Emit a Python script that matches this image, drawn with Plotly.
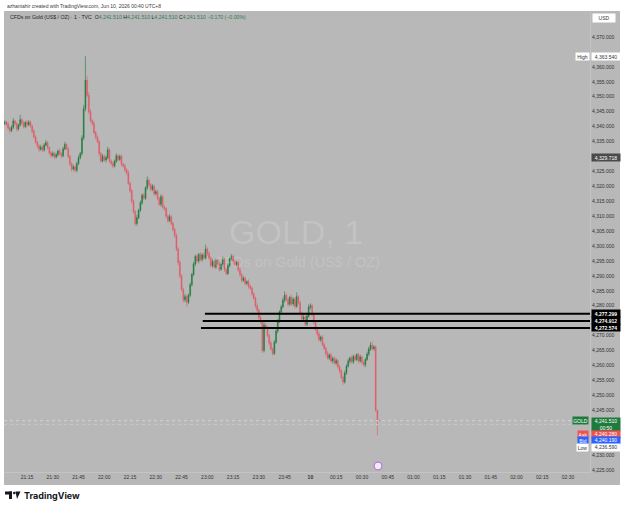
import plotly.graph_objects as go
import pandas as pd

# ---------------- data (1-minute candles) ----------------
start_time = "2026-06-09 21:02"
first_open = 4341.0
close = [
    4341.5, 4340.8, 4339.5, 4338.6, 4339.8, 4341.9, 4341.0, 4339.2, 4340.5, 4342.3,
    4341.2, 4340.0, 4341.4, 4340.6, 4341.5, 4340.2, 4338.4, 4336.5, 4334.8, 4333.6,
    4332.4, 4333.1, 4332.2, 4333.8, 4334.6, 4333.0, 4331.2, 4330.3, 4331.0, 4329.8,
    4330.6, 4331.8, 4331.0, 4330.2, 4332.5, 4334.0, 4332.6, 4330.0, 4327.5, 4325.8,
    4326.5, 4325.4, 4327.6, 4329.6, 4331.0, 4336.2, 4346.0, 4355.5, 4350.5, 4345.0,
    4342.0, 4341.0, 4338.0, 4336.5, 4335.0, 4331.0, 4328.5, 4330.0, 4328.8, 4329.6,
    4332.2, 4328.5, 4327.6, 4326.8, 4328.4, 4330.2, 4329.0, 4330.0, 4327.4, 4326.9,
    4325.5, 4324.5, 4321.0, 4318.5, 4315.0, 4311.5, 4307.5, 4309.5, 4312.0, 4314.5,
    4317.0, 4316.0, 4319.5, 4322.0, 4320.5, 4319.0, 4320.0, 4317.5, 4318.2, 4316.0,
    4314.0, 4316.5, 4313.0, 4312.5, 4310.0, 4308.5, 4309.8, 4307.5, 4305.5, 4303.5,
    4299.0, 4294.5, 4290.0, 4285.5, 4282.0, 4283.0, 4281.2, 4283.5, 4287.0, 4290.5,
    4294.0, 4296.5, 4295.0, 4297.2, 4295.5, 4297.0, 4296.0, 4299.0, 4297.5, 4296.0,
    4293.5, 4294.8, 4293.0, 4295.2, 4294.0, 4292.2, 4293.8, 4295.5, 4292.0, 4290.8,
    4293.5, 4295.8, 4296.5, 4295.0, 4293.8, 4294.5, 4292.0, 4290.5, 4288.5, 4289.2,
    4287.5, 4288.0, 4286.5, 4285.8, 4284.0, 4282.5, 4280.0, 4278.5, 4276.0, 4274.5,
    4265.0, 4273.5, 4272.8, 4270.0, 4267.5, 4265.5, 4264.0, 4267.8, 4271.5, 4274.8,
    4278.0, 4279.6, 4281.8, 4283.5, 4282.0, 4280.5, 4282.8, 4280.6, 4282.2, 4279.8,
    4283.0, 4281.0, 4277.5, 4275.5, 4276.2, 4273.8, 4276.5, 4279.5, 4280.0, 4277.0,
    4274.5, 4272.0, 4270.5, 4268.6, 4269.5, 4267.0, 4265.8, 4264.0, 4262.5, 4263.5,
    4261.5, 4262.4, 4260.8, 4261.6, 4259.5, 4258.2, 4256.0, 4254.5, 4257.5, 4259.8,
    4261.5, 4262.5, 4261.2, 4263.0, 4262.0, 4263.6, 4261.5, 4262.8, 4261.0, 4260.2,
    4262.0, 4263.8, 4265.5, 4266.8, 4265.6, 4266.2, 4245.0, 4241.68, 4241.51,
]
upper_wick = [
    0.6, 0.4, 0.8, 0.5, 0.7, 0.9, 0.4, 0.6, 0.5, 1.6,
    0.5, 0.7, 0.4, 0.8, 0.6, 0.5, 0.4, 0.7, 0.6, 0.5,
    0.4, 0.8, 0.5, 0.6, 0.9, 0.5, 0.4, 0.6, 0.7, 0.5,
    0.6, 0.5, 0.8, 0.4, 0.7, 0.9, 0.5, 0.6, 0.4, 0.5,
    0.7, 0.5, 0.6, 0.8, 0.5, 0.9, 1.2, 8.04, 1.5, 1.0,
    0.8, 0.6, 0.9, 0.5, 0.7, 0.6, 0.5, 0.8, 0.6, 0.7,
    1.0, 0.6, 0.5, 0.7, 0.6, 0.8, 0.5, 0.6, 0.7, 0.4,
    0.6, 0.5, 0.8, 0.6, 0.7, 0.5, 0.6, 0.9, 0.5, 0.7,
    0.6, 0.8, 0.5, 1.3, 0.7, 0.6, 0.8, 0.5, 0.7, 0.6,
    0.5, 0.8, 0.6, 0.7, 0.5, 0.6, 0.8, 0.5, 0.7, 0.6,
    0.8, 0.6, 0.7, 0.5, 0.6, 0.9, 0.7, 0.6, 0.8, 0.5,
    0.7, 0.6, 0.8, 0.5, 0.7, 0.6, 0.9, 1.5, 0.6, 0.7,
    0.5, 0.8, 0.6, 0.7, 0.5, 0.8, 0.6, 0.9, 0.5, 0.6,
    0.7, 0.5, 0.8, 0.6, 0.7, 0.5, 0.6, 0.8, 0.5, 0.7,
    0.6, 0.5, 0.8, 0.6, 0.7, 0.5, 0.6, 0.8, 0.5, 0.7,
    0.6, 0.9, 0.7, 0.5, 0.6, 0.8, 0.5, 0.7, 0.6, 0.8,
    0.5, 0.7, 0.9, 1.3, 0.6, 0.8, 0.5, 0.9, 0.6, 0.7,
    1.5, 0.6, 0.7, 0.5, 0.8, 0.6, 0.7, 1.0, 0.8, 0.6,
    0.5, 0.7, 0.6, 0.8, 0.5, 0.7, 0.6, 0.5, 0.8, 0.6,
    0.7, 0.5, 0.6, 0.8, 0.5, 0.7, 0.6, 0.5, 0.8, 0.6,
    0.7, 0.5, 0.8, 0.6, 0.7, 0.5, 0.6, 0.8, 0.5, 0.7,
    0.6, 0.8, 0.7, 1.0, 1.2, 0.6, 0.5, 0.3, 0.0,
]
lower_wick = [
    0.5, 0.7, 0.6, 0.9, 0.4, 0.6, 0.5, 0.8, 0.6, 0.5,
    0.7, 0.6, 0.5, 0.8, 0.4, 0.6, 0.7, 0.5, 0.6, 0.8,
    0.9, 0.5, 0.7, 0.6, 0.4, 0.7, 0.6, 0.8, 0.5, 0.7,
    0.5, 0.6, 0.7, 0.8, 0.5, 0.4, 0.6, 0.7, 0.8, 0.9,
    0.6, 0.8, 0.7, 0.5, 0.6, 0.7, 0.8, 0.9, 0.7, 0.8,
    0.6, 0.7, 0.5, 0.8, 0.6, 0.9, 0.7, 0.5, 0.6, 0.8,
    0.5, 0.7, 0.6, 0.8, 0.5, 0.6, 0.7, 0.5, 0.8, 0.6,
    0.7, 0.8, 0.6, 0.7, 0.9, 0.6, 0.8, 0.7, 0.5, 0.6,
    0.7, 0.5, 0.6, 0.8, 0.5, 0.7, 0.6, 0.8, 0.5, 0.7,
    0.6, 0.8, 0.5, 0.7, 0.6, 0.8, 0.5, 0.7, 0.6, 0.8,
    0.7, 0.9, 0.8, 0.7, 0.9, 0.8, 1.6, 0.7, 0.6, 0.5,
    0.6, 0.7, 0.5, 0.8, 0.6, 0.7, 0.5, 0.6, 0.8, 0.7,
    0.6, 0.8, 0.5, 0.7, 0.6, 0.8, 0.5, 0.7, 0.6, 0.6,
    0.5, 0.7, 0.6, 0.8, 0.5, 0.7, 0.6, 0.8, 0.7, 0.5,
    0.7, 0.6, 0.8, 0.5, 0.7, 0.6, 0.8, 0.7, 0.6, 0.5,
    0.8, 0.6, 0.7, 0.5, 0.8, 0.6, 0.7, 0.5, 0.6, 0.7,
    0.6, 0.8, 0.5, 0.7, 0.6, 0.8, 0.5, 0.7, 0.6, 0.8,
    0.5, 0.7, 0.6, 0.8, 0.5, 0.7, 0.6, 0.5, 0.8, 0.6,
    0.7, 0.5, 0.8, 0.6, 0.7, 0.5, 0.6, 0.8, 0.5, 0.7,
    0.6, 0.8, 0.5, 0.7, 0.6, 0.8, 0.7, 1.0, 0.6, 0.7,
    0.5, 0.8, 0.6, 0.7, 0.5, 0.6, 0.8, 0.5, 0.7, 0.6,
    0.8, 0.5, 0.7, 0.6, 0.5, 0.7, 0.5, 5.09, 0.0,
]
assert len(close) == len(upper_wick) == len(lower_wick)

# horizontal levels drawn by the user
levels = [4277.299, 4274.912, 4272.574]
level_starts = ["2026-06-09 22:58:36", "2026-06-09 22:57:18", "2026-06-09 22:56:18"]

# price-scale labels
high_value = 4363.54
prev_value = 4329.718
last_price = 4241.51
ask_price = 4240.28
bid_price = 4240.19
low_value = 4236.59
countdown = "00:50"

time_ticks = pd.date_range("2026-06-09 21:15", "2026-06-10 02:30", freq="15min")
time_tick_text = ["21:15", "21:30", "21:45", "22:00", "22:15", "22:30", "22:45",
                  "23:00", "23:15", "23:30", "23:45", "<b>10</b>", "00:15", "00:30",
                  "00:45", "01:00", "01:15", "01:30", "01:45", "02:00", "02:15", "02:30"]
price_ticks = list(range(4225, 4371, 5))
hidden_ticks = [4365, 4330, 4275, 4240, 4235]   # covered by price-scale labels

# ---------------- build OHLC ----------------
times = pd.date_range(start_time, periods=len(close), freq="min")
opens = [first_open] + close[:-1]
highs = [max(o, c) + u for o, c, u in zip(opens, close, upper_wick)]
lows = [min(o, c) - d for o, c, d in zip(opens, close, lower_wick)]

F = "Liberation Sans"
BG = "#b8b8b8"
GREEN = "#1f7a3d"
RED = "#e05a66"

x_range = [pd.Timestamp("2026-06-09 21:01:36"), pd.Timestamp("2026-06-10 02:42:48")]
y_range = [4224.32, 4378.37]

fig = go.Figure()
fig.add_trace(go.Candlestick(
    x=times, open=opens, high=highs, low=lows, close=close,
    increasing=dict(line=dict(color=GREEN, width=0.6), fillcolor=GREEN),
    decreasing=dict(line=dict(color=RED, width=0.6), fillcolor=RED),
    whiskerwidth=0, showlegend=False, hoverinfo="skip",
))

# pixel helpers for decoration placement (plot area: x 4..590, y 12..472)
def px2x(px):
    return (px - 4) / 586


def px2y(py):
    return 1 - (py - 12) / 460


shapes = []
# gray pane (incl. price and time scales)
shapes.append(dict(type="rect", xref="paper", yref="paper", layer="below",
                   x0=px2x(4), x1=px2x(620), y0=px2y(485), y1=px2y(11),
                   fillcolor=BG, line=dict(width=0)))
# current price / bid dotted lines
shapes.append(dict(type="line", xref="x", yref="y", x0=x_range[0], x1=x_range[1],
                   y0=last_price, y1=last_price, line=dict(color="#d2d2d2", width=1, dash="dot")))
shapes.append(dict(type="line", xref="x", yref="y", x0=x_range[0], x1=x_range[1],
                   y0=bid_price, y1=bid_price, line=dict(color="#c8c8c8", width=1, dash="dot")))
# user levels
for lv, st in zip(levels, level_starts):
    shapes.append(dict(type="line", xref="x", yref="y", x0=pd.Timestamp(st), x1=x_range[1],
                       y0=lv, y1=lv, line=dict(color="#000000", width=2)))
# TradingView logo
shapes.append(dict(type="rect", xref="paper", yref="paper", x0=px2x(5), x1=px2x(12),
                   y0=px2y(494.5), y1=px2y(491.5), fillcolor="#131722", line=dict(width=0)))
shapes.append(dict(type="rect", xref="paper", yref="paper", x0=px2x(9), x1=px2x(12),
                   y0=px2y(499), y1=px2y(491.5), fillcolor="#131722", line=dict(width=0)))
shapes.append(dict(type="circle", xref="paper", yref="paper", x0=px2x(13), x1=px2x(15.6),
                   y0=px2y(494.3), y1=px2y(491.7), fillcolor="#131722", line=dict(width=0)))
shapes.append(dict(type="path", xref="paper", yref="paper",
                   path=f"M {px2x(15.5)},{px2y(491.5)} L {px2x(20.5)},{px2y(491.5)} L {px2x(17)},{px2y(499)} Z",
                   fillcolor="#131722", line=dict(width=0)))
# event icon on time scale
shapes.append(dict(type="circle", xref="paper", yref="paper", x0=px2x(374), x1=px2x(382),
                   y0=px2y(470), y1=px2y(462), fillcolor="#f3e9f7", line=dict(color="#b36bd6", width=1)))

ann = []


def label(text, x_px, y, bg, fg, w, h=7, yref="y", xanchor="left", yanchor="middle", yshift=0, size=5):
    ann.append(dict(xref="paper", yref=yref, x=px2x(x_px), y=y, xanchor=xanchor, yanchor=yanchor,
                    text=text, showarrow=False, bgcolor=bg, borderpad=0, width=w, height=h,
                    align="center", yshift=yshift, font=dict(family=F, size=size, color=fg)))


# header & legend lines
ann.append(dict(xref="paper", yref="paper", x=px2x(5), y=px2y(6), xanchor="left", yanchor="middle",
                text="azhantahir created with TradingView.com, Jun 10, 2026 00:40 UTC+8",
                showarrow=False, font=dict(family=F, size=5, color="#3a3a3a")))
val = "<span style='color:#2f7d52'>%s</span>"
lp = f"{last_price:,.3f}"
legend_txt = ("CFDs on Gold (US$ / OZ) · 1 · TVC  O" + val % lp + " H" + val % lp + " L" + val % lp
              + " C" + val % lp + " " + val % "−0.170 (−0.00%)")
ann.append(dict(xref="paper", yref="paper", x=px2x(8), y=px2y(17), xanchor="left", yanchor="middle",
                text=legend_txt, showarrow=False, font=dict(family=F, size=5.2, color="#1e1e1e")))
# watermark
ann.append(dict(xref="paper", yref="paper", x=px2x(296), y=px2y(232), xanchor="center", yanchor="middle",
                text="GOLD, 1", showarrow=False, font=dict(family=F, size=34, color="rgba(255,255,255,0.16)")))
ann.append(dict(xref="paper", yref="paper", x=px2x(297), y=px2y(262), xanchor="center", yanchor="middle",
                text="CFDs on Gold (US$ / OZ)", showarrow=False,
                font=dict(family=F, size=14.5, color="rgba(255,255,255,0.16)")))
# TradingView wordmark
ann.append(dict(xref="paper", yref="paper", x=px2x(22), y=px2y(495.5), xanchor="left", yanchor="middle",
                text="<b>TradingView</b>", showarrow=False, font=dict(family="Inter", size=9, color="#131722")))

# price-scale labels
label("USD", 592, px2y(18), "#ffffff", "#333333", 22, h=8, yref="paper")
label("High", 590, high_value, "#ffffff", "#333333", 13, xanchor="right")
label(f"{high_value:,.3f}", 591, high_value, "#ffffff", "#333333", 28)
label(f"{prev_value:,.3f}", 591, prev_value, "#4a4a4a", "#ffffff", 28)
for lv in levels:
    label(f"<b>{lv:,.3f}</b>", 591, lv, "#000000", "#ffffff", 28)
label("GOLD", 589, last_price, GREEN, "#ffffff", 15, xanchor="right")
label(f"{last_price:,.3f}<br>{countdown}", 591, last_price, GREEN, "#ffffff", 28, h=13,
      yanchor="top", yshift=3.5)
label("Ask", 589, px2y(434), "#ef5350", "#ffffff", 10, yref="paper", xanchor="right")
label(f"{ask_price:,.3f}", 591, px2y(434), "#ef5350", "#ffffff", 28, h=6.5, yref="paper")
label("Bid", 589, px2y(440.5), "#2962ff", "#ffffff", 10, yref="paper", xanchor="right")
label(f"{bid_price:,.3f}", 591, px2y(440.5), "#2962ff", "#ffffff", 28, h=6.5, yref="paper")
label("Low", 589, px2y(447), "#ffffff", "#333333", 11, yref="paper", xanchor="right")
label(f"{low_value:,.3f}", 591, px2y(447), "#ffffff", "#333333", 28, h=6.5, yref="paper")

fig.update_layout(
    width=625, height=510,
    margin=dict(l=4, r=35, t=12, b=38),
    paper_bgcolor="#ffffff", plot_bgcolor="rgba(0,0,0,0)",
    shapes=shapes, annotations=ann, showlegend=False,
    font=dict(family=F, size=5, color="#333333"),
    xaxis=dict(type="date", range=x_range, tickvals=list(time_ticks), ticktext=time_tick_text,
               showgrid=False, zeroline=False, rangeslider=dict(visible=False),
               tickfont=dict(family=F, size=5, color="#333333"), ticks="",
               showline=True, linecolor="#c4c4c4", linewidth=1, fixedrange=True),
    yaxis=dict(side="right", range=y_range, tickvals=price_ticks,
               ticktext=["" if v in hidden_ticks else f"{v:,.3f}" for v in price_ticks],
               showgrid=False, zeroline=False,
               tickfont=dict(family=F, size=5, color="#333333"), ticks="",
               showline=True, linecolor="#c4c4c4", linewidth=1, fixedrange=True),
)

fig.write_html("out.html")
